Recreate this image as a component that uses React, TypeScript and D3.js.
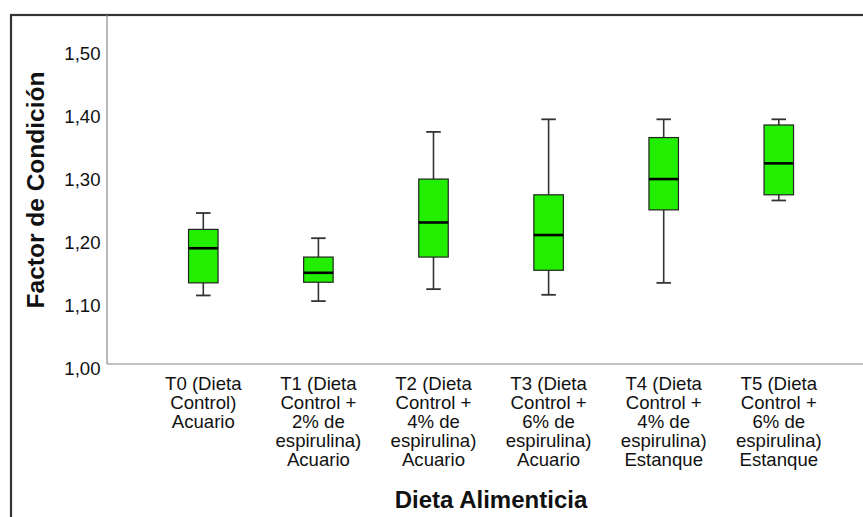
import React from "react";
import * as d3 from "d3";

const categories: string[][] = [
  ["T0 (Dieta", "Control)", "Acuario"],
  ["T1 (Dieta", "Control +", "2% de", "espirulina)", "Acuario"],
  ["T2 (Dieta", "Control +", "4% de", "espirulina)", "Acuario"],
  ["T3 (Dieta", "Control +", "6% de", "espirulina)", "Acuario"],
  ["T4 (Dieta", "Control +", "4% de", "espirulina)", "Estanque"],
  ["T5 (Dieta", "Control +", "6% de", "espirulina)", "Estanque"],
];
const whiskerLow = [1.109, 1.1, 1.119, 1.11, 1.129, 1.26];
const q1 = [1.129, 1.13, 1.17, 1.149, 1.245, 1.269];
const median = [1.184, 1.145, 1.225, 1.205, 1.294, 1.319];
const q3 = [1.214, 1.17, 1.294, 1.269, 1.36, 1.38];
const whiskerHigh = [1.24, 1.2, 1.369, 1.389, 1.389, 1.389];
const yTicks = [1.0, 1.1, 1.2, 1.3, 1.4, 1.5];

const W = 863;
const H = 517;
const FONT = "'Liberation Sans', Arial, sans-serif";

export default function App() {
  const ids = categories.map((_, i) => String(i));
  const x = d3.scalePoint<string>().domain(ids).range([203.3, 778.8]);
  const y = d3.scaleLinear().domain([1.0, 1.5]).range([364, 49.5]);
  const fmt = (v: number) => d3.format(".2f")(v).replace(".", ",");
  const boxW = 29.5;
  const capW = 14.5;
  const plotLeft = 107;
  const plotTop = 15;
  const plotBottom = y(1.0);

  return (
    <svg
      width={W}
      height={H}
      style={{ position: "absolute", left: 0, top: 0, background: "#fff" }}
      fontFamily={FONT}
    >
      {/* outer frame */}
      <rect x={11} y={15} width={900} height={600} fill="none" stroke="#333" strokeWidth={2.2} />
      {/* plot frame */}
      <line x1={plotLeft} x2={plotLeft} y1={plotTop} y2={plotBottom} stroke="#8a8a8a" strokeWidth={1.2} />
      <line x1={plotLeft} x2={W + 5} y1={plotBottom} y2={plotBottom} stroke="#8a8a8a" strokeWidth={1.2} />

      {/* y tick labels */}
      {yTicks.map((t) => (
        <text key={t} x={100.5} y={y(t) + 10.8} textAnchor="end" fontSize={18.6} fill="#111">
          {fmt(t)}
        </text>
      ))}

      {/* boxes */}
      {ids.map((id, i) => {
        const cx = x(id)!;
        return (
          <g key={id}>
            <line x1={cx} x2={cx} y1={y(whiskerHigh[i])} y2={y(q3[i])} stroke="#333" strokeWidth={1.6} />
            <line x1={cx} x2={cx} y1={y(q1[i])} y2={y(whiskerLow[i])} stroke="#333" strokeWidth={1.6} />
            <line x1={cx - capW / 2} x2={cx + capW / 2} y1={y(whiskerHigh[i])} y2={y(whiskerHigh[i])} stroke="#333" strokeWidth={1.8} />
            <line x1={cx - capW / 2} x2={cx + capW / 2} y1={y(whiskerLow[i])} y2={y(whiskerLow[i])} stroke="#333" strokeWidth={1.8} />
            <rect
              x={cx - boxW / 2}
              y={y(q3[i])}
              width={boxW}
              height={y(q1[i]) - y(q3[i])}
              fill="#22ee00"
              stroke="#222"
              strokeWidth={1.2}
            />
            <line x1={cx - boxW / 2} x2={cx + boxW / 2} y1={y(median[i])} y2={y(median[i])} stroke="#000" strokeWidth={2.6} />
          </g>
        );
      })}

      {/* category labels */}
      {ids.map((id, i) => (
        <text key={id} x={x(id)!} textAnchor="middle" fontSize={18.6} fill="#111">
          {categories[i].map((line, j) => (
            <tspan key={j} x={x(id)!} y={390 + j * 19}>
              {line}
            </tspan>
          ))}
        </text>
      ))}

      {/* axis titles */}
      <text x={491} y={508} textAnchor="middle" fontSize={24} fontWeight="bold" fill="#111">
        Dieta Alimenticia
      </text>
      <text
        transform={`translate(43.5,190) rotate(-90)`}
        textAnchor="middle"
        fontSize={24.5}
        fontWeight="bold"
        fill="#111"
      >
        Factor de Condición
      </text>
    </svg>
  );
}
